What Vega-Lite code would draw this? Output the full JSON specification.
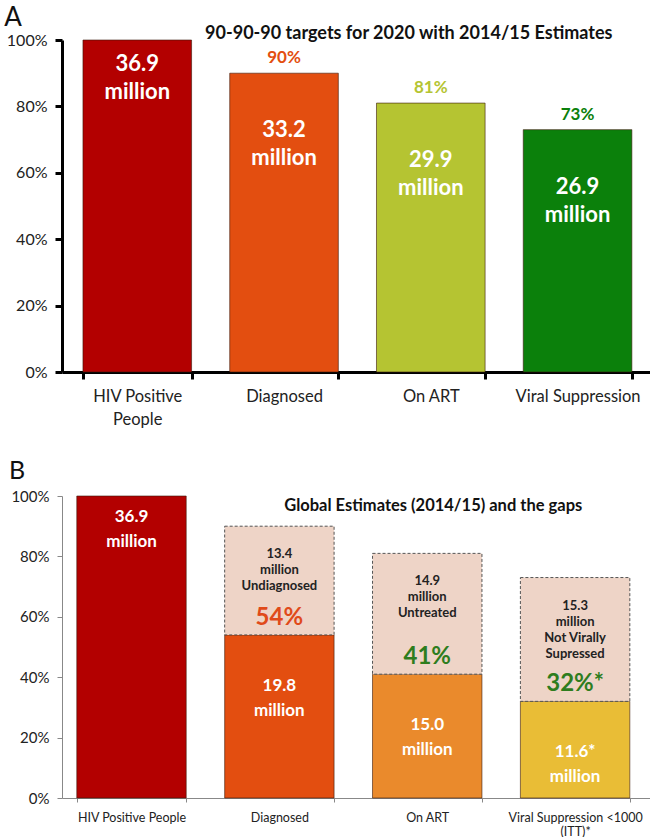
{
  "$schema": "https://vega.github.io/schema/vega-lite/v6.json",
  "background": "white",
  "padding": {"left": 4, "top": 5, "right": 0, "bottom": 0},
  "spacing": 31,
  "config": {
    "view": {"stroke": null},
    "font": "Lato",
    "title": {"font": "Lato", "fontWeight": "normal", "color": "#111", "anchor": "start", "frame": "bounds"}
  },
  "resolve": {"scale": {"color": "independent", "x": "independent", "y": "independent"}},
  "vconcat": [
    {
      "width": 590,
      "height": 332,
      "title": {"text": "A", "fontSize": 26, "offset": -15, "dx": -2},
      "data": {"values": [
        {"cat": "HIV Positive People", "pct": 100, "people": "36.9\nmillion", "top": ""},
        {"cat": "Diagnosed", "pct": 90, "people": "33.2\nmillion", "top": "90%"},
        {"cat": "On ART", "pct": 81, "people": "29.9\nmillion", "top": "81%"},
        {"cat": "Viral Suppression", "pct": 73, "people": "26.9\nmillion", "top": "73%"}
      ]},
      "encoding": {
        "x": {
          "field": "cat", "type": "nominal", "sort": null,
          "scale": {"paddingInner": 0.26, "paddingOuter": 0.14, "align": 0.51},
          "axis": {
            "title": null, "labelAngle": 0, "labelFont": "Lato", "labelFontSize": 16.5, "labelColor": "#222",
            "labelPadding": 9, "labelLineHeight": 23,
            "labelExpr": "datum.label == 'HIV Positive People' ? ['HIV Positive', 'People'] : datum.label",
            "domainColor": "#000", "domainWidth": 3, "tickColor": "#000", "tickWidth": 3, "tickSize": 7,
            "tickBand": "extent"
          }
        }
      },
      "layer": [
        {
          "mark": {"type": "bar", "stroke": "#3a1a0a", "strokeWidth": 0.6},
          "encoding": {
            "y": {
              "field": "pct", "type": "quantitative", "scale": {"domain": [0, 100]},
              "axis": {
                "title": null, "values": [0, 20, 40, 60, 80, 100], "labelExpr": "datum.value + '%'",
                "labelFont": "Lato", "labelFontSize": 16, "labelColor": "#222", "labelPadding": 8,
                "domainColor": "#000", "domainWidth": 3, "tickColor": "#000", "tickWidth": 3, "tickSize": 7, "grid": false
              }
            },
            "color": {
              "field": "cat", "type": "nominal", "legend": null,
              "scale": {"domain": ["HIV Positive People", "Diagnosed", "On ART", "Viral Suppression"],
                        "range": ["#B30000", "#E34E10", "#B5C432", "#0B800B"]}
            }
          }
        },
        {
          "mark": {"type": "text", "fontSize": 17, "fontWeight": "bold", "baseline": "bottom", "dy": -6},
          "encoding": {
            "y": {"field": "pct", "type": "quantitative"},
            "text": {"field": "top"},
            "color": {"field": "cat", "type": "nominal", "legend": null}
          }
        },
        {
          "transform": [{"filter": "datum.pct < 100"}],
          "mark": {"type": "text", "color": "white", "fontSize": 22, "fontWeight": "bold", "baseline": "top", "lineBreak": "\n", "lineHeight": 28, "dy": 47},
          "encoding": {
            "y": {"field": "pct", "type": "quantitative"},
            "text": {"field": "people"}
          }
        },
        {
          "transform": [{"filter": "datum.pct == 100"}],
          "mark": {"type": "text", "color": "white", "fontSize": 22, "fontWeight": "bold", "baseline": "top", "lineBreak": "\n", "lineHeight": 28, "dy": 14},
          "encoding": {
            "y": {"field": "pct", "type": "quantitative"},
            "text": {"field": "people"}
          }
        },
        {
          "data": {"values": [{"heading": "90-90-90 targets for 2020 with 2014/15 Estimates"}]},
          "mark": {"type": "text", "fontSize": 18, "fontWeight": "bold", "color": "#111", "dx": -22, "dy": -6},
          "encoding": {
            "x": {"datum": "On ART"},
            "y": {"datum": 100, "type": "quantitative"},
            "text": {"field": "heading"}
          }
        }
      ]
    },
    {
      "width": 590,
      "height": 302,
      "title": {"text": "B", "fontSize": 25, "offset": 5, "dx": -2},
      "data": {"values": [
        {"cat": "HIV Positive People", "done": 100, "target": 100, "inLabel": "36.9\nmillion", "gapLabel": "", "gapPct": ""},
        {"cat": "Diagnosed", "done": 54, "target": 90, "inLabel": "19.8\nmillion", "gapLabel": "13.4\nmillion\nUndiagnosed", "gapPct": "54%"},
        {"cat": "On ART", "done": 41, "target": 81, "inLabel": "15.0\nmillion", "gapLabel": "14.9\nmillion\nUntreated", "gapPct": "41%"},
        {"cat": "Viral Suppression <1000 (ITT)*", "done": 32, "target": 73, "inLabel": "11.6*\nmillion", "gapLabel": "15.3\nmillion\nNot Virally\nSupressed", "gapPct": "32%*"}
      ]},
      "encoding": {
        "x": {
          "field": "cat", "type": "nominal", "sort": null,
          "scale": {"paddingInner": 0.26, "paddingOuter": 0.125, "align": 0.4},
          "axis": {
            "title": null, "labelAngle": 0, "labelFont": "Lato", "labelFontSize": 12.5, "labelColor": "#222",
            "labelPadding": 9, "labelLineHeight": 14,
            "labelExpr": "datum.label == 'Viral Suppression <1000 (ITT)*' ? ['Viral Suppression <1000', '(ITT)*'] : datum.label",
            "domainColor": "#888", "domainWidth": 1, "tickColor": "#888", "tickWidth": 1, "tickSize": 4,
            "tickBand": "extent"
          }
        }
      },
      "layer": [
        {
          "mark": {"type": "bar", "stroke": "#3a1a0a", "strokeWidth": 0.6},
          "encoding": {
            "y": {
              "field": "done", "type": "quantitative", "scale": {"domain": [0, 100]},
              "axis": {
                "title": null, "values": [0, 20, 40, 60, 80, 100], "labelExpr": "datum.value + '%'",
                "labelFont": "Lato", "labelFontSize": 15, "labelColor": "#222", "labelPadding": 8,
                "domainColor": "#888", "domainWidth": 1, "tickColor": "#888", "tickWidth": 1, "tickSize": 5, "grid": false
              }
            },
            "color": {
              "field": "cat", "type": "nominal", "legend": null,
              "scale": {"domain": ["HIV Positive People", "Diagnosed", "On ART", "Viral Suppression <1000 (ITT)*"],
                        "range": ["#B30000", "#E34E10", "#EA8A2C", "#E9BD36"]}
            }
          }
        },
        {
          "transform": [{"filter": "datum.target > datum.done"}],
          "mark": {"type": "bar", "fill": "#EED4C7", "stroke": "#555", "strokeWidth": 1, "strokeDash": [3, 2]},
          "encoding": {
            "y": {"field": "done", "type": "quantitative"},
            "y2": {"field": "target"}
          }
        },
        {
          "transform": [{"filter": "datum.target > datum.done"}],
          "mark": {"type": "text", "fontSize": 13, "fontWeight": "bold", "color": "#222", "baseline": "top", "lineBreak": "\n", "lineHeight": 16, "dy": 22},
          "encoding": {
            "y": {"field": "target", "type": "quantitative"},
            "text": {"field": "gapLabel"}
          }
        },
        {
          "transform": [{"filter": "datum.target > datum.done"}],
          "mark": {"type": "text", "fontSize": 24, "fontWeight": "bold", "baseline": "bottom", "dy": -5},
          "encoding": {
            "y": {"field": "done", "type": "quantitative"},
            "text": {"field": "gapPct"},
            "color": {"condition": {"test": "datum.cat == 'Diagnosed'", "value": "#E04A1A"}, "value": "#2E7D1E"}
          }
        },
        {
          "transform": [{"filter": "datum.done < 100"}],
          "mark": {"type": "text", "color": "white", "fontSize": 17, "fontWeight": "bold", "baseline": "top", "lineBreak": "\n", "lineHeight": 25, "dy": 43},
          "encoding": {
            "y": {"field": "done", "type": "quantitative"},
            "text": {"field": "inLabel"}
          }
        },
        {
          "transform": [{"filter": "datum.done == 100"}],
          "mark": {"type": "text", "color": "white", "fontSize": 17, "fontWeight": "bold", "baseline": "top", "lineBreak": "\n", "lineHeight": 25, "dy": 13},
          "encoding": {
            "y": {"field": "done", "type": "quantitative"},
            "text": {"field": "inLabel"}
          }
        },
        {
          "data": {"values": [{"heading": "Global Estimates (2014/15) and the gaps"}]},
          "mark": {"type": "text", "fontSize": 16.5, "fontWeight": "bold", "color": "#111", "dx": 6, "dy": 10},
          "encoding": {
            "x": {"datum": "On ART"},
            "y": {"datum": 100, "type": "quantitative"},
            "text": {"field": "heading"}
          }
        }
      ]
    }
  ]
}
